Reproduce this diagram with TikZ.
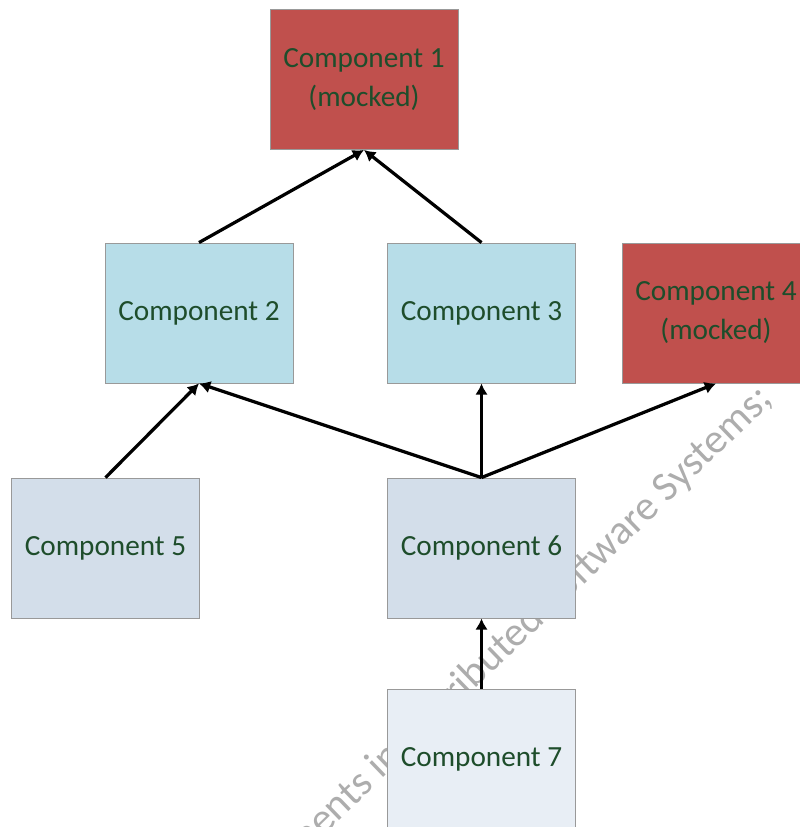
\documentclass[tikz,border=0pt]{standalone}
\usepackage{fontspec}
\setmainfont{Carlito}
\usetikzlibrary{arrows.meta,positioning}
\definecolor{mockred}{HTML}{C0504D}
\definecolor{unitblue}{HTML}{B7DDE8}
\definecolor{greyblue}{HTML}{D3DEEA}
\definecolor{paleblue}{HTML}{E8EEF5}
\definecolor{labelgreen}{HTML}{1E4D2B}

\begin{document}
\begin{tikzpicture}[x=0.025cm,y=-0.025cm,
		comp/.style={draw=black!40, line width=0.6pt, minimum width=4.7cm, minimum height=3.5cm,
			inner sep=0pt, align=center, text=labelgreen, font=\fontsize{20.8}{27.7}\selectfont},
		dep/.style={line width=2.3pt, -{Latex[length=8pt,width=9pt]}}]
		
			\useasboundingbox (0,0) rectangle (800,827);
			\clip (0,0) rectangle (800,827);
			
			% watermark behind the boxes
			\node[rotate=44, anchor=base east, inner sep=0pt, text=black!32, font=\fontsize{29.5}{33}\selectfont] (mark) at (774,401) {Components in Distributed Software Systems;};
			
			\node[comp, fill=mockred] (c1) at (364,79.5) {Component 1\\(mocked)};
			
			\node[comp, fill=unitblue] (c2) at (199,313) {Component 2};
			\node[comp, fill=unitblue] (c3) at (481.5,313) {Component 3};
			\node[comp, fill=mockred] (c4) at (716,313) {Component 4\\(mocked)};
			
			\node[comp, fill=greyblue] (c5) at (105.5,548) {Component 5};
			\node[comp, fill=greyblue] (c6) at (481.5,548) {Component 6};
			
			\node[comp, fill=paleblue] (c7) at (481.5,759) {Component 7};
			
			\draw[dep] (c2.north) -- (c1.south);
			\draw[dep] (c3.north) -- (c1.south);
			
			\draw[dep] (c5.north) -- (c2.south);
			\draw[dep] (c6.north) -- (c2.south);
			\draw[dep] (c6.north) -- (c3.south);
			\draw[dep] (c6.north) -- (c4.south);
			
			\draw[dep] (c7.north) -- (c6.south);

		\end{tikzpicture}
\end{document}
